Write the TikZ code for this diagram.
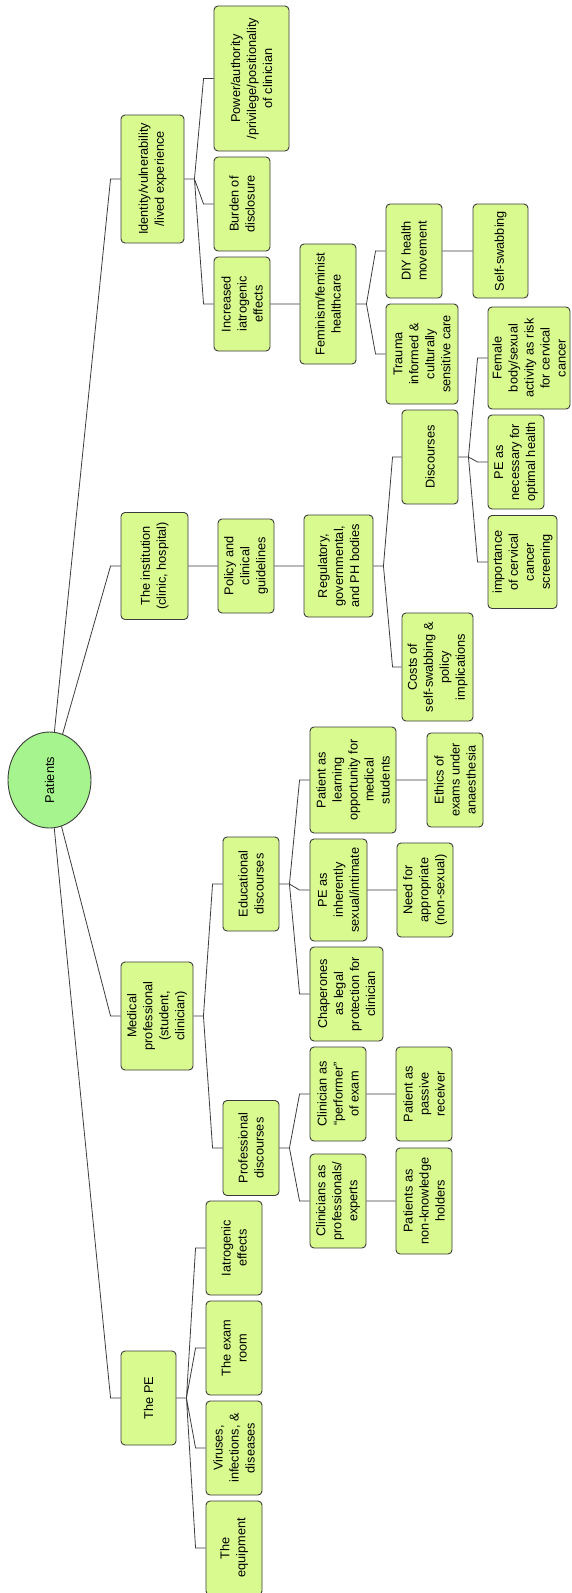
\documentclass[tikz,border=0pt]{standalone}
\usepackage{fontspec}
\setmainfont{Liberation Sans}
\usepackage{tikz}
\usepackage{xcolor}
\usetikzlibrary{
    shapes.geometric,
    positioning
}
\definecolor{boxfill}{HTML}{D9FA8F}
\definecolor{hubfill}{HTML}{A6F48E}
\definecolor{linegray}{HTML}{3C3C3C}

\begin{document}
\begin{tikzpicture}[x=1pt, y=-1pt,
    box/.style={draw=linegray, line width=0.9pt, fill=boxfill, rounded corners=4pt,
        rotate=90, align=center, inner sep=0pt, minimum width=94pt, minimum height=56pt,
        font=\fontsize{12.75}{16}\selectfont},
    hub/.style={draw=linegray, line width=0.9pt, fill=hubfill, ellipse, rotate=90,
        inner sep=0pt, font=\fontsize{12.75}{16}\selectfont},
    link/.style={draw=linegray, line width=0.8pt}]
                        \useasboundingbox (0, 0) rectangle (571, 1593);

                        \node[hub, minimum width=96pt, minimum height=83pt] (root) at (49.5, 780) {Patients};

                        \node[box, minimum width=128pt, minimum height=63pt] (ident) at (152.5, 179) {Identity/vulnerability\\/lived experience};
                        \node[box, minimum width=145pt, minimum height=75pt] (power) at (251.5, 78.5) {Power/authority\\/privilege/positionality\\of clinician};
                        \node[box] (burden) at (242, 204) {Burden of\\disclosure};
                        \node[box] (incr) at (242, 304) {Increased\\iatrogenic\\effects};
                        \node[box, minimum width=120pt] (femin) at (328, 304) {Feminism/feminist\\healthcare};
                        \node[box] (diy) at (414, 251) {DIY health\\movement};
                        \node[box, minimum width=100pt, minimum height=72pt] (trauma) at (422, 354) {Trauma\\informed \&\\culturally\\sensitive care};
                        \node[box, minimum height=55pt] (swab) at (500.5, 251) {Self-swabbing};

                        \node[box, minimum width=107pt, minimum height=67pt] (inst) at (154.5, 566) {The institution\\(clinic, hospital)};
                        \node[box] (policy) at (246, 566) {Policy and\\clinical\\guidelines};
                        \node[box, minimum width=102pt, minimum height=69pt] (reg) at (338.5, 566) {Regulatory,\\governmental,\\and PH bodies};
                        \node[box] (disc) at (430, 457) {Discourses};
                        \node[box, minimum width=108pt, minimum height=71pt] (costs) at (437.5, 667) {Costs of\\self-swabbing \&\\policy\\implications};
                        \node[box, minimum width=102pt, minimum height=82pt] (female) at (529, 358) {Female\\body/sexual\\activity as risk\\for cervical\\cancer};
                        \node[box] (optimal) at (516, 462) {PE as\\necessary for\\optimal health};
                        \node[box, minimum width=93pt, minimum height=69pt] (screen) at (522.5, 562) {importance\\of cervical\\cancer\\screening};

                        \node[box, minimum width=108pt, minimum height=72pt] (med) at (157, 1016) {Medical\\professional\\(student,\\clinician)};
                        \node[box] (edu) at (251, 884) {Educational\\discourses};
                        \node[box, minimum width=95pt] (prof) at (251, 1148) {Professional\\discourses};
                        \node[box, minimum width=106pt, minimum height=86pt] (learn) at (353, 780) {Patient as\\learning\\opportunity for\\medical\\students};
                        \node[box] (ethics) at (455, 780) {Ethics of\\exams under\\anaesthesia};
                        \node[box, minimum width=102pt, minimum height=57pt] (intimate) at (338.5, 890) {PE as\\inherently\\sexual/intimate};
                        \node[box] (need) at (425, 890) {Need for\\appropriate\\(non-sexual)};
                        \node[box, minimum height=73pt] (chap) at (346.5, 994) {Chaperones\\as legal\\protection for\\clinician};
                        \node[box] (perf) at (338, 1094) {Clinician as\\“performer”\\of exam};
                        \node[box] (experts) at (338, 1201) {Clinicians as\\professionals/\\experts};
                        \node[box] (passive) at (424, 1094) {Patient as\\passive\\receiver};
                        \node[box, minimum width=106pt] (nonknow) at (424, 1201) {Patients as\\non-knowledge\\holders};

                        \node[box, minimum height=55pt] (pe) at (148.5, 1398) {The PE};
                        \node[box] (iatro) at (234, 1248) {Iatrogenic\\effects};
                        \node[box] (room) at (234, 1348) {The exam\\room};
                        \node[box] (virus) at (234, 1448) {Viruses,\\infections, \&\\diseases};
                        \node[box] (equip) at (234, 1548) {The\\equipment};

                        \draw[link]
                        (root) -- ([xshift=-10pt]ident.north) -- (ident.north)
                        (root) -- ([xshift=-10pt]inst.north) -- (inst.north)
                        (root) -- ([xshift=-10pt]med.north) -- (med.north)
                        (root) -- ([xshift=-10pt]pe.north) -- (pe.north)
                        (ident.south) -- ++(10,0) -- ([xshift=-10pt]power.north) -- (power.north)
                        (ident.south) -- ++(10,0) -- ([xshift=-10pt]burden.north) -- (burden.north)
                        (ident.south) -- ++(10,0) -- ([xshift=-10pt]incr.north) -- (incr.north)
                        (incr.south) -- (femin.north)
                        (femin.south) -- ++(10,0) -- ([xshift=-10pt]diy.north) -- (diy.north)
                        (femin.south) -- ++(10,0) -- ([xshift=-10pt]trauma.north) -- (trauma.north)
                        (diy.south) -- (swab.north)
                        (inst.south) -- (policy.north)
                        (policy.south) -- (reg.north)
                        (reg.south) -- ++(10,0) -- ([xshift=-9pt]disc.north) -- (disc.north)
                        (reg.south) -- ++(10,0) -- ([xshift=-9pt]costs.north) -- (costs.north)
                        (disc.south) -- ++(10,0) -- ([xshift=-10pt]female.north) -- (female.north)
                        (disc.south) -- ++(10,0) -- ([xshift=-10pt]optimal.north) -- (optimal.north)
                        (disc.south) -- ++(10,0) -- ([xshift=-10pt]screen.north) -- (screen.north)
                        (med.south) -- ++(10,0) -- ([xshift=-10pt]edu.north) -- (edu.north)
                        (med.south) -- ++(10,0) -- ([xshift=-10pt]prof.north) -- (prof.north)
                        (edu.south) -- ++(10,0) -- ([xshift=-10pt]learn.north) -- (learn.north)
                        (edu.south) -- ++(10,0) -- ([xshift=-10pt]intimate.north) -- (intimate.north)
                        (edu.south) -- ++(10,0) -- ([xshift=-10pt]chap.north) -- (chap.north)
                        (learn.south) -- (ethics.north)
                        (intimate.south) -- (need.north)
                        (prof.south) -- ++(10,0) -- ([xshift=-10pt]perf.north) -- (perf.north)
                        (prof.south) -- ++(10,0) -- ([xshift=-10pt]experts.north) -- (experts.north)
                        (perf.south) -- (passive.north)
                        (experts.south) -- (nonknow.north)
                        (pe.south) -- ++(10,0) -- ([xshift=-10pt]iatro.north) -- (iatro.north)
                        (pe.south) -- ++(10,0) -- ([xshift=-10pt]room.north) -- (room.north)
                        (pe.south) -- ++(10,0) -- ([xshift=-10pt]virus.north) -- (virus.north)
                        (pe.south) -- ++(10,0) -- ([xshift=-10pt]equip.north) -- (equip.north);
                    \end{tikzpicture}
\end{document}
